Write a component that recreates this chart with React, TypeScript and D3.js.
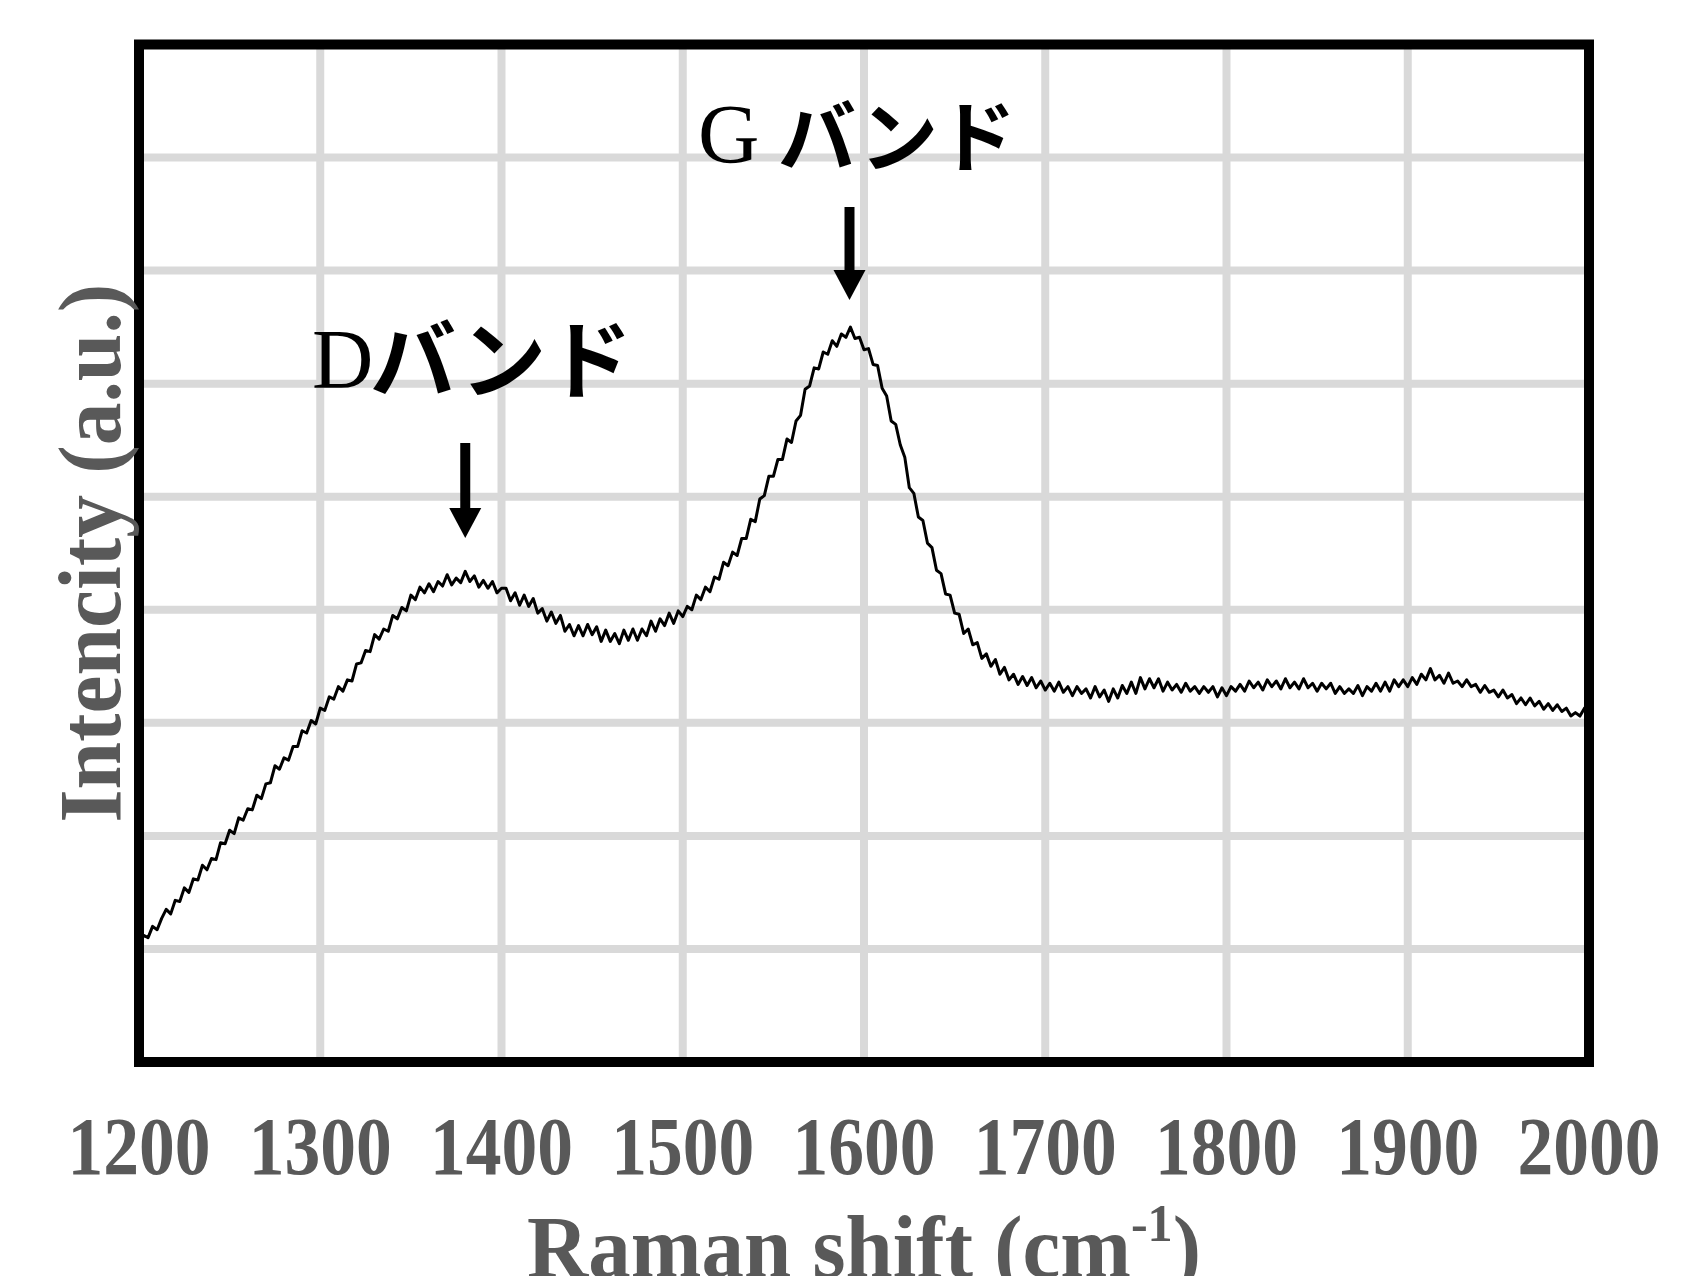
import React from "react";
import * as d3 from "d3";

// ---- data ----
const xTicks = [1200, 1300, 1400, 1500, 1600, 1700, 1800, 1900, 2000];
const yGrid = [1, 2, 3, 4, 5, 6, 7, 8];
const ramanShift = d3.range(0, 321).map((i) => 1200 + i * 2.5);
const intensity = [
  1.06, 1.12, 1.10, 1.20, 1.17, 1.27, 1.35, 1.31, 1.43, 1.42, 1.54, 1.50, 1.62, 1.61, 1.74, 1.70, 1.80, 1.79, 1.94, 1.93, 2.05, 2.02, 2.16, 2.14, 2.24, 2.23, 2.36, 2.33, 2.46, 2.47, 2.62, 2.59, 2.69, 2.67, 2.79, 2.79, 2.93, 2.91, 3.02, 2.99, 3.13,
  3.11, 3.23, 3.21, 3.32, 3.28, 3.38, 3.37, 3.52, 3.53, 3.64, 3.63, 3.78, 3.74, 3.83, 3.81, 3.95, 3.92, 4.02, 3.99, 4.13, 4.09, 4.20, 4.15, 4.23, 4.16, 4.25, 4.21, 4.31, 4.22, 4.28, 4.24, 4.34, 4.25, 4.30, 4.20, 4.26, 4.19, 4.25, 4.15, 4.19,
  4.19, 4.08, 4.15, 4.04, 4.13, 4.03, 4.10, 3.97, 4.01, 3.90, 3.98, 3.88, 3.95, 3.81, 3.87, 3.77, 3.86, 3.77, 3.87, 3.78, 3.85, 3.72, 3.82, 3.72, 3.79, 3.70, 3.82, 3.73, 3.83, 3.73, 3.83, 3.77, 3.90, 3.81, 3.92, 3.86, 3.97, 3.88, 3.99, 3.94,
  4.03, 4.00, 4.13, 4.09, 4.20, 4.16, 4.29, 4.27, 4.42, 4.39, 4.51, 4.48, 4.63, 4.63, 4.80, 4.78, 4.98, 5.01, 5.18, 5.18, 5.33, 5.33, 5.51, 5.48, 5.67, 5.72, 5.95, 5.98, 6.14, 6.13, 6.28, 6.26, 6.38, 6.33, 6.44, 6.41, 6.50, 6.40, 6.41, 6.30,
  6.31, 6.17, 6.16, 5.96, 5.89, 5.67, 5.64, 5.46, 5.35, 5.08, 5.03, 4.82, 4.79, 4.59, 4.55, 4.35, 4.32, 4.14, 4.13, 3.97, 3.96, 3.79, 3.83, 3.69, 3.71, 3.57, 3.61, 3.50, 3.56, 3.43, 3.49, 3.38, 3.43, 3.34, 3.41, 3.33, 3.40, 3.31, 3.37, 3.29,
  3.35, 3.28, 3.36, 3.27, 3.32, 3.24, 3.32, 3.26, 3.30, 3.22, 3.32, 3.23, 3.29, 3.19, 3.30, 3.22, 3.33, 3.26, 3.36, 3.26, 3.40, 3.30, 3.39, 3.31, 3.39, 3.28, 3.36, 3.29, 3.34, 3.27, 3.35, 3.28, 3.32, 3.26, 3.32, 3.27, 3.32, 3.23, 3.31, 3.24,
  3.32, 3.28, 3.34, 3.28, 3.37, 3.31, 3.36, 3.29, 3.38, 3.32, 3.37, 3.30, 3.39, 3.31, 3.36, 3.30, 3.39, 3.31, 3.35, 3.28, 3.35, 3.30, 3.35, 3.26, 3.32, 3.26, 3.30, 3.26, 3.33, 3.24, 3.32, 3.28, 3.35, 3.28, 3.36, 3.28, 3.38, 3.32, 3.38, 3.32,
  3.40, 3.34, 3.43, 3.38, 3.48, 3.38, 3.42, 3.35, 3.44, 3.35, 3.37, 3.32, 3.38, 3.32, 3.34, 3.27, 3.33, 3.27, 3.29, 3.23, 3.29, 3.22, 3.25, 3.17, 3.22, 3.16, 3.22, 3.15, 3.19, 3.12, 3.17, 3.11, 3.16, 3.10, 3.13, 3.06, 3.09, 3.06, 3.13, 3.15,
];
const bandLabels = ["D", "G "];
const bandPositions = [1380, 1592];
const bandKana = "バンド";
const xTitle = "Raman shift (cm";
const xTitleSup = "-1";
const yTitle = "Intencity (a.u.)";

const W = 1706;
const H = 1276;
const left = 139;
const right = 1589;
const top = 44.5;
const bottom = 1062;

export default function App() {
  const x = d3.scaleLinear().domain([1200, 2000]).range([left, right]);
  const y = d3.scaleLinear().domain([0, 9]).range([bottom, top]);
  const pts = ramanShift.map((r, i) => [r, intensity[i]] as [number, number]);
  const line = d3
    .line<[number, number]>()
    .x((d) => x(d[0]))
    .y((d) => y(d[1]));

  const serif = "'Liberation Serif', 'Times New Roman', serif";
  const cjk = "'Noto Sans CJK JP', sans-serif";
  const grey = "#595959";

  const ann = [
    { base: 388, lx: 312, kx: 370, kbase: 392, kSize: 86, shaftTop: 443, headTop: 508, tip: 538 },
    { base: 163, lx: 698, kx: 778, kbase: 166, kSize: 78, shaftTop: 207, headTop: 270, tip: 300 },
  ];

  return (
    <svg
      width={W}
      height={H}
      style={{ position: "absolute", left: 0, top: 0, display: "block", background: "#fff" }}
    >
      <rect x={0} y={0} width={W} height={H} fill="#fff" />
      <defs>
        <clipPath id="plotclip">
          <rect x={left} y={top} width={right - left} height={bottom - top} />
        </clipPath>
      </defs>
      {/* grid */}
      {xTicks.slice(1, -1).map((t) => (
        <line key={"gx" + t} x1={x(t)} x2={x(t)} y1={top} y2={bottom} stroke="#d9d9d9" strokeWidth={8} />
      ))}
      {yGrid.map((t) => (
        <line key={"gy" + t} x1={left} x2={right} y1={y(t)} y2={y(t)} stroke="#d9d9d9" strokeWidth={8} />
      ))}
      {/* spectrum */}
      <path
        d={line(pts) || ""}
        fill="none"
        stroke="#000"
        strokeWidth={3}
        strokeLinejoin="round"
        clipPath="url(#plotclip)"
      />
      {/* frame */}
      <rect x={left} y={top} width={right - left} height={bottom - top} fill="none" stroke="#000" strokeWidth={10} />
      {/* x tick labels */}
      {xTicks.map((t) => (
        <text
          key={"tl" + t}
          x={x(t)}
          y={1174}
          textAnchor="middle"
          fontFamily={serif}
          fontWeight="bold"
          fontSize={82}
          fill={grey}
          textLength={143}
          lengthAdjust="spacingAndGlyphs"
        >
          {t}
        </text>
      ))}
      {/* x title */}
      <text
        x={(left + right) / 2}
        y={1277}
        textAnchor="middle"
        fontFamily={serif}
        fontWeight="bold"
        fontSize={88}
        fill={grey}
        textLength={674}
        lengthAdjust="spacingAndGlyphs"
      >
        {xTitle}
        <tspan fontSize={52} dy={-36}>{xTitleSup}</tspan>
        <tspan dy={36}>)</tspan>
      </text>
      {/* y title */}
      <text
        transform={`translate(120, ${(top + bottom) / 2}) rotate(-90)`}
        textAnchor="middle"
        fontFamily={serif}
        fontWeight="bold"
        fontSize={88}
        fill={grey}
        textLength={539}
        lengthAdjust="spacingAndGlyphs"
      >
        {yTitle}
      </text>
      {/* band annotations */}
      {bandPositions.map((p, i) => {
        const a = ann[i];
        const ax = x(p);
        return (
          <g key={"band" + i}>
            <text x={a.lx} y={a.base} fontFamily={serif} fontSize={85} fill="#000">
              {bandLabels[i]}
            </text>
            <text x={a.kx} y={a.kbase} fontFamily={cjk} fontWeight="bold" fontSize={a.kSize} fill="#000">
              {bandKana}
            </text>
            <line x1={ax} x2={ax} y1={a.shaftTop} y2={a.headTop + 2} stroke="#000" strokeWidth={10} />
            <path d={`M${ax - 16},${a.headTop} L${ax + 16},${a.headTop} L${ax},${a.tip} Z`} fill="#000" />
          </g>
        );
      })}
    </svg>
  );
}
